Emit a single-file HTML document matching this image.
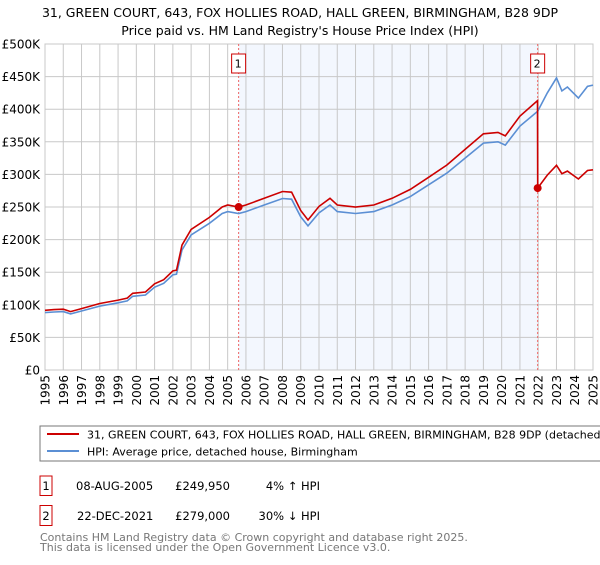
<!DOCTYPE html>
<html><head><meta charset="utf-8"><style>
body{margin:0;background:#fff;font-family:"Liberation Sans","DejaVu Sans",sans-serif;}
svg text{font-family:"DejaVu Sans","Liberation Sans",sans-serif;}
</style></head><body>
<svg id="c" width="600" height="560" viewBox="0 0 600 560">
<text x="300" y="17" text-anchor="middle" font-size="12.5" fill="#000">31, GREEN COURT, 643, FOX HOLLIES ROAD, HALL GREEN, BIRMINGHAM, B28 9DP</text>
<text x="300" y="35" text-anchor="middle" font-size="12.5" fill="#000">Price paid vs. HM Land Registry's House Price Index (HPI)</text>
<g id="plot"></g>
<rect x="40" y="426" width="570" height="35" fill="#fff" stroke="#777"/>
<line x1="47" y1="434" x2="79" y2="434" stroke="#cc0000" stroke-width="2"/>
<text x="87" y="438.5" font-size="11">31, GREEN COURT, 643, FOX HOLLIES ROAD, HALL GREEN, BIRMINGHAM, B28 9DP (detached house)</text>
<line x1="47" y1="451" x2="79" y2="451" stroke="#5b8fd4" stroke-width="2"/>
<text x="87" y="455.5" font-size="11">HPI: Average price, detached house, Birmingham</text>
<rect x="40" y="476" width="12" height="19.5" fill="#fff" stroke="#cc0000"/>
<text x="46" y="490" text-anchor="middle" font-size="11.5">1</text>
<text x="76" y="490" font-size="11.5">08-AUG-2005</text>
<text x="230" y="490" text-anchor="end" font-size="11.5">£249,950</text>
<text x="320" y="490" text-anchor="end" font-size="11.5">4% ↑ HPI</text>
<rect x="40" y="505.5" width="12" height="20" fill="#fff" stroke="#cc0000"/>
<text x="46" y="520" text-anchor="middle" font-size="11.5">2</text>
<text x="77" y="520" font-size="11.5">22-DEC-2021</text>
<text x="230" y="520" text-anchor="end" font-size="11.5">£279,000</text>
<text x="320" y="520" text-anchor="end" font-size="11.5">30% ↓ HPI</text>
<text x="40" y="541" font-size="11" fill="#777">Contains HM Land Registry data © Crown copyright and database right 2025.</text>
<text x="40" y="551" font-size="11" fill="#777">This data is licensed under the Open Government Licence v3.0.</text>
</svg>
<script>
const hpiTimes=[1995,1995.5,1996,1996.4,1997,1998,1999,1999.5,1999.8,2000.5,2001,2001.5,2002,2002.2,2002.5,2003,2004,2004.7,2005,2005.6,2006,2007,2008,2008.5,2009,2009.4,2010,2010.6,2011,2012,2013,2014,2015,2016,2017,2018,2019,2019.8,2020.2,2021,2021.97,2022.5,2023,2023.3,2023.6,2024.2,2024.7,2025];
const hpiValues=[88,89,89.5,86,90.5,98,103,106,113,115,127,133,146,147,184,207,225,240,243,240,243,253,263,262,235,221,241,253,243,240,243,253,266,284,302,325,348,350,345,374,397,425,448,428,434,417,435,437];
const priceTimes=[1995,1995.5,1996,1996.4,1997,1998,1999,1999.5,1999.8,2000.5,2001,2001.5,2002,2002.2,2002.5,2003,2004,2004.7,2005,2005.6,2006,2007,2008,2008.5,2009,2009.4,2010,2010.6,2011,2012,2013,2014,2015,2016,2017,2018,2019,2019.8,2020.2,2021,2021.96,2021.97,2022.5,2023,2023.3,2023.6,2024.2,2024.7,2025];
const priceValues=[91.6,92.6,93.2,89.5,94.2,102,107.2,110.3,117.6,119.7,132.2,138.5,152,153,191.5,215.5,234,250,253,249.95,253,263.4,273.8,272.7,244.6,230,250.9,263.4,253,249.8,253,263.4,277,295.6,314.4,338.3,362.3,364.4,359.1,389.3,413,279,299,314,301,305,293,306,307];
const saleTimes=[2005.6,2021.97];
const saleValues=[249.95,279];
const saleLabels=["1","2"];
const yTicks=[0,50,100,150,200,250,300,350,400,450,500];
const yTickLabels=["£0","£50K","£100K","£150K","£200K","£250K","£300K","£350K","£400K","£450K","£500K"];
const xYears=[1995,1996,1997,1998,1999,2000,2001,2002,2003,2004,2005,2006,2007,2008,2009,2010,2011,2012,2013,2014,2015,2016,2017,2018,2019,2020,2021,2022,2023,2024,2025];

const NS="http://www.w3.org/2000/svg";
const L=45,R=593,T=44,B=370,X0=1995,X1=2025,YMAX=500;
const sx=t=>L+(t-X0)/(X1-X0)*(R-L);
const sy=v=>B-v/YMAX*(B-T);
const g=document.getElementById('plot');
function mk(tag,attrs){const e=document.createElementNS(NS,tag);for(const k in attrs)e.setAttribute(k,attrs[k]);g.appendChild(e);return e;}
let e;
e=mk('rect',{x:sx(saleTimes[0]),y:T,width:sx(saleTimes[1])-sx(saleTimes[0]),height:B-T,fill:'#eef3fd',opacity:0.7});


yTicks.forEach((v,i)=>{
 e=mk('line',{x1:L,x2:R,y1:sy(v),y2:sy(v),stroke:'#c8c8c8','stroke-width':1});
 
 
 e=mk('text',{x:40,y:sy(v)+4.5,'text-anchor':'end','font-size':'12',fill:'#000'});
 e.textContent=yTickLabels[i];
 
 
});
xYears.forEach(y=>{
 e=mk('line',{x1:sx(y),x2:sx(y),y1:T,y2:B,stroke:'#c8c8c8','stroke-width':1});
 
 
 e=mk('text',{x:0,y:0,'text-anchor':'end','font-size':'12',fill:'#000',transform:`translate(${sx(y)+4.5},${B+5}) rotate(-90)`});
 e.textContent=y;
 
 
});
e=mk('rect',{x:L,y:T,width:R-L,height:B-T,fill:'none',stroke:'#c8c8c8'});


saleTimes.forEach((t,i)=>{
 e=mk('line',{x1:sx(t),x2:sx(t),y1:T,y2:B,stroke:'#ee6666','stroke-width':1,'stroke-dasharray':'2,2'});
 
 
});
const path=(ts,vs)=>ts.map((t,i)=>(i?'L':'M')+sx(t).toFixed(1)+','+sy(vs[i]).toFixed(1)).join('');
e=mk('path',{d:path(hpiTimes,hpiValues),fill:'none',stroke:'#5b8fd4','stroke-width':1.6});


e=mk('path',{d:path(priceTimes,priceValues),fill:'none',stroke:'#cc0000','stroke-width':1.6});


saleTimes.forEach((t,i)=>{
 e=mk('circle',{cx:sx(t),cy:sy(saleValues[i]),r:4,fill:'#cc0000'});
 
 
 e=mk('rect',{x:sx(t)-7,y:54,width:14,height:19,fill:'#fff',stroke:'#cc0000'});
 
 
 e=mk('text',{x:sx(t)-0.5,y:67.5,'text-anchor':'middle','font-size':'11',fill:'#000'});
 e.textContent=saleLabels[i];
 
 
});
</script>
</body></html>
